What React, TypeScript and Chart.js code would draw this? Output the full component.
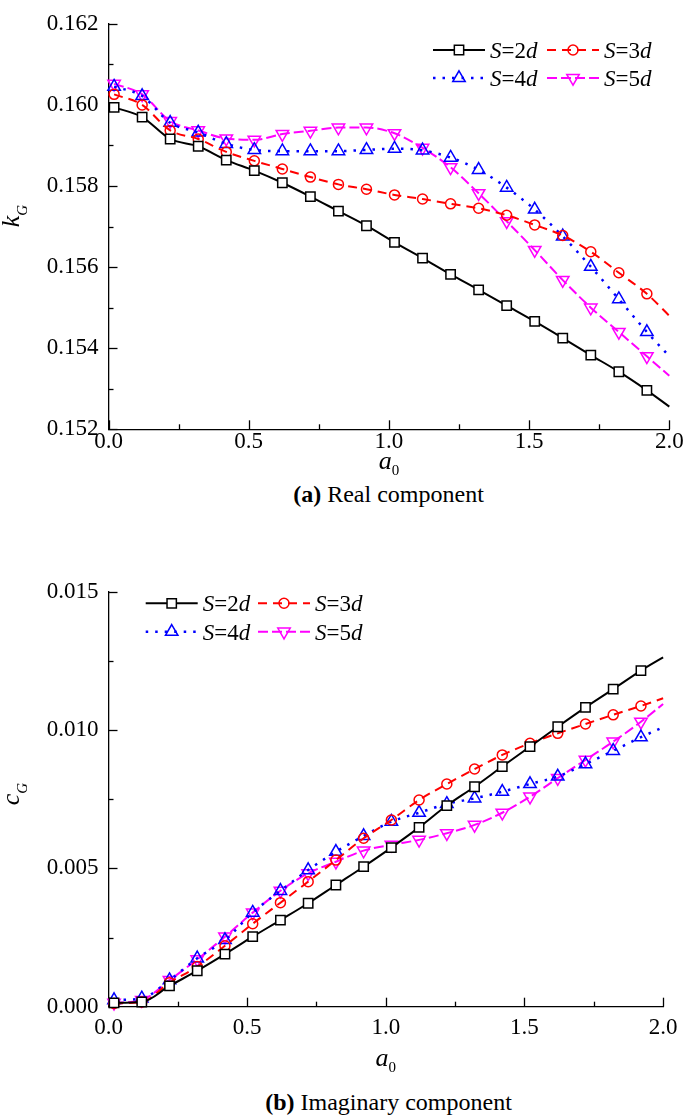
import React, { useEffect, useRef } from 'react';
import { Chart, registerables } from 'chart.js';

Chart.register(...registerables);

// ---------- data ----------
const a0Values = [0.02, 0.12, 0.22, 0.32, 0.42, 0.52, 0.62, 0.72, 0.82, 0.92, 1.02, 1.12, 1.22, 1.32, 1.42, 1.52, 1.62, 1.72, 1.82, 1.92, 2.0];
const spacingLabels = ['2', '3', '4', '5'];

const kG_S2 = [0.15994, 0.1597, 0.15916, 0.15898, 0.15864, 0.15838, 0.15808, 0.15774, 0.15738, 0.15702, 0.15661, 0.15622, 0.15582, 0.15544, 0.15505, 0.15466, 0.15425, 0.15383, 0.15342, 0.15296, 0.15256];
const kG_S3 = [0.16026, 0.16, 0.15937, 0.15916, 0.15884, 0.15862, 0.15842, 0.15822, 0.15804, 0.15792, 0.15778, 0.15768, 0.15756, 0.15745, 0.15728, 0.15704, 0.15678, 0.15638, 0.15586, 0.15534, 0.1548];
const kG_S4 = [0.16045, 0.16022, 0.15956, 0.15932, 0.15904, 0.15889, 0.15886, 0.15886, 0.15886, 0.15889, 0.15892, 0.15888, 0.1587, 0.1584, 0.15796, 0.15742, 0.15676, 0.15601, 0.15521, 0.1544, 0.1538];
const kG_S5 = [0.16052, 0.16026, 0.1596, 0.15937, 0.15917, 0.15914, 0.15928, 0.15936, 0.15944, 0.15944, 0.1593, 0.15894, 0.15846, 0.15782, 0.15713, 0.15642, 0.15568, 0.155, 0.1544, 0.1538, 0.15332];

const cG_S2 = [0.00014, 0.00017, 0.00075, 0.0013, 0.0019, 0.00253, 0.00313, 0.00374, 0.0044, 0.00506, 0.00575, 0.00648, 0.00727, 0.00795, 0.00868, 0.0094, 0.01012, 0.01082, 0.01148, 0.01215, 0.01263];
const cG_S3 = [0.00012, 0.00017, 0.00087, 0.00145, 0.0022, 0.003, 0.00376, 0.00452, 0.0053, 0.00609, 0.00675, 0.00747, 0.00805, 0.00859, 0.0091, 0.00952, 0.00988, 0.01022, 0.01055, 0.01087, 0.01115];
const cG_S4 = [0.00024, 0.0003, 0.00096, 0.00175, 0.00241, 0.0034, 0.00419, 0.00494, 0.0056, 0.00617, 0.00669, 0.00701, 0.00733, 0.00753, 0.00777, 0.00805, 0.00832, 0.00877, 0.00925, 0.00974, 0.0101];
const cG_S5 = [0.00014, 0.00024, 0.00096, 0.00171, 0.00253, 0.0034, 0.00419, 0.00482, 0.00524, 0.00564, 0.00585, 0.00603, 0.00627, 0.00657, 0.00701, 0.00759, 0.00826, 0.00892, 0.00958, 0.0103, 0.01094];

const xTickValues = [0, 0.5, 1.0, 1.5, 2.0];
const xTickLabels = ['0.0', '0.5', '1.0', '1.5', '2.0'];
const kTickValues = [0.152, 0.154, 0.156, 0.158, 0.16, 0.162];
const kTickLabels = ['0.152', '0.154', '0.156', '0.158', '0.160', '0.162'];
const cTickValues = [0, 0.005, 0.01, 0.015];
const cTickLabels = ['0.000', '0.005', '0.010', '0.015'];

// ---------- styles ----------
const FONT = '"Liberation Serif", "Times New Roman", Times, serif';
const seriesStyles = [
  { color: '#000000', dash: [] as number[], width: 2, shape: 'rect', radius: 6.6, rotation: 0, fill: '#ffffff' },
  { color: '#ff0000', dash: [9, 6], width: 2, shape: 'circle', radius: 5, rotation: 0, fill: 'rgba(0,0,0,0)' },
  { color: '#0000ff', dash: [2.5, 7], width: 2.5, shape: 'triangle', radius: 7.2, rotation: 0, fill: 'rgba(0,0,0,0)' },
  { color: '#ff00ff', dash: [10, 4], width: 2, shape: 'triangle', radius: 7.2, rotation: 180, fill: 'rgba(0,0,0,0)' },
];

function withMinors(majors: number[]) {
  const out: { value: number }[] = [];
  majors.forEach((v, i) => {
    out.push({ value: v });
    if (i < majors.length - 1) out.push({ value: (v + majors[i + 1]) / 2 });
  });
  return out;
}

type Part = { t: string; italic?: boolean; bold?: boolean; size: number; dy?: number };
function fontOf(p: Part) {
  return `${p.italic ? 'italic ' : ''}${p.bold ? 'bold ' : ''}${p.size}px ${FONT}`;
}
function partsWidth(ctx: CanvasRenderingContext2D, parts: Part[]) {
  let w = 0;
  for (const p of parts) {
    ctx.font = fontOf(p);
    w += ctx.measureText(p.t).width;
  }
  return w;
}
function drawParts(ctx: CanvasRenderingContext2D, parts: Part[], x: number, y: number) {
  let cx = x;
  for (const p of parts) {
    ctx.font = fontOf(p);
    ctx.fillText(p.t, cx, y + (p.dy || 0));
    cx += ctx.measureText(p.t).width;
  }
}

function drawMarker(ctx: CanvasRenderingContext2D, s: typeof seriesStyles[0], x: number, y: number) {
  ctx.save();
  ctx.setLineDash([]);
  ctx.strokeStyle = s.color;
  ctx.fillStyle = s.fill;
  ctx.lineWidth = 1.5;
  ctx.beginPath();
  const r = s.radius;
  if (s.shape === 'rect') {
    const h = Math.SQRT1_2 * r;
    ctx.rect(x - h, y - h, 2 * h, 2 * h);
  } else if (s.shape === 'circle') {
    ctx.arc(x, y, r, 0, Math.PI * 2);
  } else {
    let rad = (s.rotation * Math.PI) / 180;
    ctx.moveTo(x + Math.sin(rad) * r, y - Math.cos(rad) * r);
    rad += (2 * Math.PI) / 3;
    ctx.lineTo(x + Math.sin(rad) * r, y - Math.cos(rad) * r);
    rad += (2 * Math.PI) / 3;
    ctx.lineTo(x + Math.sin(rad) * r, y - Math.cos(rad) * r);
    ctx.closePath();
  }
  ctx.fill();
  ctx.stroke();
  ctx.restore();
}

const tickMarkPlugin = {
  id: 'inwardTicks',
  beforeDatasetsDraw(chart: any) {
    const ctx = chart.ctx as CanvasRenderingContext2D;
    const { left, bottom } = chart.chartArea;
    const xs = chart.scales.x;
    const ys = chart.scales.y;
    ctx.save();
    ctx.strokeStyle = '#000';
    ctx.lineWidth = 1.3;
    xs.ticks.forEach((t: any, i: number) => {
      const px = Math.round(xs.getPixelForValue(t.value)) + 0.5;
      const len = i % 2 === 0 ? 9 : 5;
      ctx.beginPath();
      ctx.moveTo(px, bottom);
      ctx.lineTo(px, bottom - len);
      ctx.stroke();
    });
    ys.ticks.forEach((t: any, i: number) => {
      const py = Math.round(ys.getPixelForValue(t.value)) + 0.5;
      const len = i % 2 === 0 ? 9 : 5;
      ctx.beginPath();
      ctx.moveTo(left, py);
      ctx.lineTo(left + len, py);
      ctx.stroke();
    });
    ctx.restore();
  },
};

function makeLegendPlugin(cols: number[], rows: number[]) {
  return {
    id: 'customLegend',
    afterDraw(chart: any) {
      const ctx = chart.ctx as CanvasRenderingContext2D;
      ctx.save();
      ctx.textBaseline = 'alphabetic';
      ctx.fillStyle = '#000';
      chart.data.datasets.forEach((_ds: any, i: number) => {
        const s = seriesStyles[i];
        const x0 = cols[i % 2];
        const y = rows[Math.floor(i / 2)];
        ctx.save();
        ctx.strokeStyle = s.color;
        ctx.lineWidth = s.width;
        ctx.setLineDash(s.dash);
        ctx.beginPath();
        ctx.moveTo(x0, y);
        ctx.lineTo(x0 + 52, y);
        ctx.stroke();
        ctx.restore();
        drawMarker(ctx, s, x0 + 26, y);
        ctx.fillStyle = '#000';
        drawParts(ctx, [
          { t: 'S', italic: true, size: 23 },
          { t: '=', size: 23 },
          { t: spacingLabels[i], size: 23 },
          { t: 'd', italic: true, size: 23 },
        ], x0 + 57, y + 8);
      });
      ctx.restore();
    },
  };
}

function makeTitlePlugin(yTitle: string, yCenter: number, xTitleY: number) {
  return {
    id: 'axisTitles',
    afterDraw(chart: any) {
      const ctx = chart.ctx as CanvasRenderingContext2D;
      const { left, right } = chart.chartArea;
      ctx.save();
      ctx.fillStyle = '#000';
      ctx.textBaseline = 'alphabetic';
      const xp: Part[] = [
        { t: 'a', italic: true, size: 26 },
        { t: '0', size: 15, dy: 6 },
      ];
      const xw = partsWidth(ctx, xp);
      drawParts(ctx, xp, (left + right) / 2 - xw / 2, xTitleY);
      const yp: Part[] = [
        { t: yTitle, italic: true, size: 26 },
        { t: 'G', italic: true, size: 15, dy: 8 },
      ];
      const yw = partsWidth(ctx, yp);
      ctx.translate(19, yCenter);
      ctx.rotate(-Math.PI / 2);
      drawParts(ctx, yp, -yw / 2, 0);
      ctx.restore();
    },
  };
}

function buildConfig(opts: {
  series: number[][];
  yMin: number;
  yMax: number;
  yTickValues: number[];
  yTickLabels: string[];
  height: number;
  top: number;
  bottom: number;
  xLabelPad: number;
  legendCols: number[];
  legendRows: number[];
  yTitle: string;
  yTitleCenter: number;
  xTitleY: number;
}) {
  const left = 108.5;
  const right = 669.3;
  return {
    type: 'line',
    data: {
      datasets: opts.series.map((vals, i) => {
        const s = seriesStyles[i];
        return {
          label: `S=${spacingLabels[i]}d`,
          data: a0Values.map((x, j) => ({ x, y: vals[j] })),
          borderColor: s.color,
          borderWidth: s.width,
          borderDash: s.dash,
          pointStyle: s.shape,
          pointRotation: s.rotation,
          pointRadius: a0Values.map((x) => (x < 1.99 ? s.radius : 0)),
          pointBorderColor: s.color,
          pointBackgroundColor: s.fill,
          pointBorderWidth: 1.5,
          cubicInterpolationMode: 'monotone',
          fill: false,
          clip: false,
        };
      }),
    },
    options: {
      animation: false,
      responsive: false,
      maintainAspectRatio: false,
      events: [],
      layout: { padding: { top: opts.top, left: 0, right: 685 - right, bottom: 0 } },
      plugins: { legend: { display: false }, tooltip: { enabled: false } },
      scales: {
        x: {
          type: 'linear',
          min: 0,
          max: 2,
          afterBuildTicks: (scale: any) => {
            scale.ticks = withMinors(xTickValues);
          },
          afterFit: (scale: any) => {
            scale.height = opts.height - opts.bottom;
          },
          grid: { display: false, drawTicks: false },
          border: { display: true, color: '#000', width: 1.3 },
          ticks: {
            autoSkip: false,
            maxRotation: 0,
            padding: opts.xLabelPad,
            color: '#000',
            font: { family: FONT, size: 23 },
            callback: (_v: any, i: number) => (i % 2 === 0 ? xTickLabels[i / 2] : ''),
          },
        },
        y: {
          type: 'linear',
          min: opts.yMin,
          max: opts.yMax,
          afterBuildTicks: (scale: any) => {
            scale.ticks = withMinors(opts.yTickValues);
          },
          afterFit: (scale: any) => {
            scale.width = left;
          },
          grid: { display: false, drawTicks: false },
          border: { display: true, color: '#000', width: 1.3 },
          ticks: {
            autoSkip: false,
            padding: 10,
            color: '#000',
            font: { family: FONT, size: 23 },
            callback: (_v: any, i: number) => (i % 2 === 0 ? opts.yTickLabels[i / 2] : ''),
          },
        },
      },
    },
    plugins: [
      tickMarkPlugin,
      makeLegendPlugin(opts.legendCols, opts.legendRows),
      makeTitlePlugin(opts.yTitle, opts.yTitleCenter, opts.xTitleY),
    ],
  } as any;
}

function ChartCanvas({ config, width, height, top }: { config: any; width: number; height: number; top: number }) {
  const ref = useRef<HTMLCanvasElement>(null);
  useEffect(() => {
    if (!ref.current) return;
    const chart = new Chart(ref.current, config);
    return () => chart.destroy();
  }, [config]);
  return (
    <canvas
      ref={ref}
      width={width}
      height={height}
      style={{ position: 'absolute', left: 0, top, width, height, display: 'block' }}
    />
  );
}

const topConfig = buildConfig({
  series: [kG_S2, kG_S3, kG_S4, kG_S5],
  yMin: 0.152,
  yMax: 0.162,
  yTickValues: kTickValues,
  yTickLabels: kTickLabels,
  height: 480,
  top: 13.3,
  bottom: 429.3,
  xLabelPad: -1,
  legendCols: [433, 547],
  legendRows: [50, 78],
  yTitle: 'k',
  yTitleCenter: 216,
  xTitleY: 469,
});

const bottomTop = 560;
const bottomConfig = buildConfig({
  series: [cG_S2, cG_S3, cG_S4, cG_S5],
  yMin: 0,
  yMax: 0.015,
  yTickValues: cTickValues,
  yTickLabels: cTickLabels,
  height: 520,
  top: 591.7 - bottomTop,
  bottom: 1006.7 - bottomTop,
  xLabelPad: 7.5,
  legendCols: [145.7, 258],
  legendRows: [603.3 - bottomTop, 631.7 - bottomTop],
  yTitle: 'c',
  yTitleCenter: 794 - bottomTop,
  xTitleY: 1066 - bottomTop,
});

const captionStyle: React.CSSProperties = {
  position: 'absolute',
  left: 108,
  width: 561,
  textAlign: 'center',
  fontFamily: FONT,
  fontSize: 24,
  lineHeight: '28px',
  color: '#000',
  whiteSpace: 'nowrap',
};

export default function App() {
  return (
    <div style={{ position: 'absolute', left: 0, top: 0, width: 685, height: 1118, background: '#fff', overflow: 'hidden' }}>
      <ChartCanvas config={topConfig} width={685} height={480} top={0} />
      <div style={{ ...captionStyle, top: 480 }}>
        <b>(a)</b> Real component
      </div>
      <ChartCanvas config={bottomConfig} width={685} height={520} top={bottomTop} />
      <div style={{ ...captionStyle, top: 1088 }}>
        <b>(b)</b> Imaginary component
      </div>
    </div>
  );
}
